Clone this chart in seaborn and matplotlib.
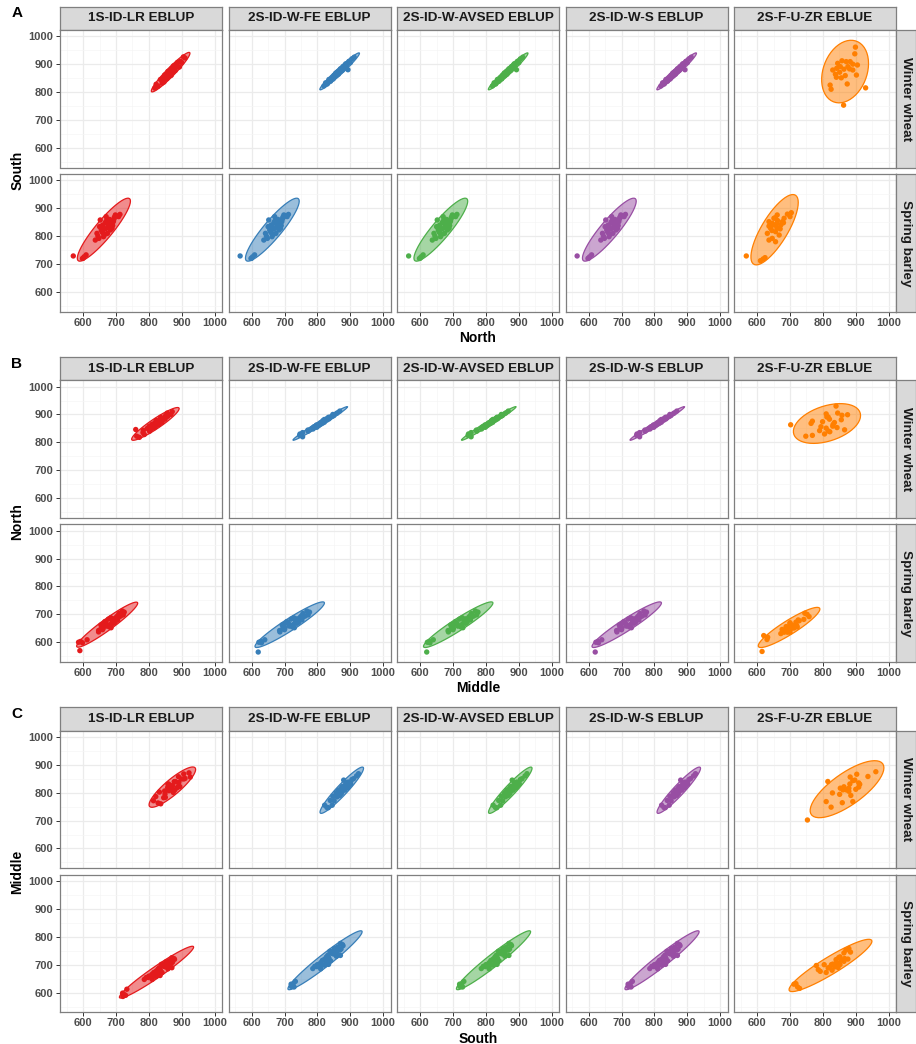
import numpy as np
import pandas as pd
import matplotlib
matplotlib.use("Agg")
import matplotlib.pyplot as plt
import seaborn as sns
from matplotlib.patches import Polygon
from matplotlib.colors import to_rgba

sns.set_theme(style="white")
plt.rcParams["font.family"] = ["Liberation Sans", "DejaVu Sans"]

# ---------------- data ----------------
METHODS = ["1S-ID-LR EBLUP", "2S-ID-W-FE EBLUP", "2S-ID-W-AVSED EBLUP",
           "2S-ID-W-S EBLUP", "2S-F-U-ZR EBLUE"]
METHOD_GROUP = ["LR", "IDW", "IDW", "IDW", "EBLUE"]
CROPS = ["Winter wheat", "Spring barley"]
COLORS = ["#E41A1C", "#377EB8", "#4DAF4A", "#984EA3", "#FF7F00"]
PANELS = [("A", "North", "South"), ("B", "Middle", "North"), ("C", "South", "Middle")]
TICKS = [600, 700, 800, 900, 1000]
MINOR_TICKS = [550, 650, 750, 850, 950]
LIMITS = (529.6, 1022.4)

# Winter wheat, 1S-ID-LR EBLUP
ww_lr_north = [818, 822, 828, 835, 840, 843, 846, 848, 850, 852, 855, 857, 858, 860, 862, 864, 865, 867,
               868, 870, 872, 874, 875, 877, 879, 880, 883, 885, 887, 890, 893, 896, 900, 905, 910]
ww_lr_south = [814, 828, 821, 845, 832, 850, 836, 861, 849, 862, 848, 864, 874, 857, 872, 858, 879, 869,
               860, 886, 880, 872, 894, 879, 890, 877, 899, 891, 906, 890, 890, 910, 906, 926, 922]
ww_lr_middle = [771, 763, 786, 782, 802, 783, 760, 807, 795, 816, 806, 820, 801, 818, 810, 830, 810, 824,
                831, 818, 840, 825, 822, 839, 823, 839, 849, 836, 849, 836, 857, 851, 867, 856, 871]

# Winter wheat, 2S-ID-W (FE / AVSED / S) EBLUP
ww_idw_north = [820, 825, 830, 835, 840, 844, 848, 851, 854, 856, 858, 860, 862, 864, 866, 868, 870, 872,
                874, 876, 878, 880, 882, 884, 886, 888, 890, 893, 896, 900, 905, 912]
ww_idw_south = [822, 833, 829, 845, 839, 851, 847, 860, 857, 868, 859, 868, 873, 864, 876, 872, 883, 875,
                882, 878, 891, 886, 894, 887, 901, 894, 901, 880, 910, 905, 919, 925]
ww_idw_middle = [755, 746, 747, 755, 772, 771, 787, 785, 798, 790, 800, 804, 797, 809, 806, 815, 809, 821,
                 815, 822, 817, 829, 821, 835, 830, 838, 834, 845, 850, 847, 860, 868]

# Winter wheat, 2S-F-U-ZR EBLUE
ww_eblue_north = [899, 897, 858, 871, 883, 845, 891, 905, 876, 830, 842, 864, 891, 851, 868, 841, 902,
                  856, 822, 874, 825, 930, 863, 838, 881, 853]
ww_eblue_south = [961, 937, 912, 909, 909, 903, 900, 897, 891, 879, 885, 882, 879, 871, 859, 853, 861,
                  851, 825, 829, 810, 815, 753, 864, 883, 891]
ww_eblue_middle = [875, 858, 830, 835, 820, 866, 812, 845, 768, 805, 790, 831, 816, 810, 764, 816, 810,
                   794, 748, 799, 768, 840, 702, 821, 856, 843]

# Spring barley, 1S-ID-LR EBLUP
sb_lr_north = [570, 600, 603, 609, 598, 637, 642, 645, 650, 652, 655, 658, 660, 663, 665, 668, 670, 672,
               674, 676, 680, 683, 686, 688, 692, 695, 698, 703, 708, 712, 648, 662,
               655, 668, 678, 684, 690, 660, 672, 694]
sb_lr_south = [729, 721, 726, 733, 720, 786, 810, 800, 834, 858, 822, 815, 840, 828, 805, 850, 870, 846,
               810, 832, 860, 822, 848, 828, 852, 868, 876, 872, 870, 878, 792, 798,
               835, 826, 842, 856, 838, 812, 858, 862]
sb_lr_middle = [590, 586, 592, 612, 598, 647, 647, 659, 661, 685, 658, 672, 672, 682, 659, 692, 689, 694,
                666, 689, 705, 677, 702, 684, 710, 705, 722, 709, 725, 719, 654, 654,
                680, 670, 696, 693, 701, 657, 697, 714]

# Spring barley, 2S-ID-W (FE / AVSED / S) EBLUP
sb_idw_north = [565, 600, 603, 609, 598, 637, 642, 645, 650, 652, 655, 658, 660, 663, 665, 668, 670, 672,
                674, 676, 680, 683, 686, 688, 692, 695, 698, 703, 708, 712, 648, 662,
                655, 668, 678, 684, 690, 660, 672, 694]
sb_idw_south = [729, 721, 726, 733, 720, 786, 810, 800, 834, 858, 822, 815, 840, 828, 805, 850, 870, 846,
                810, 832, 860, 822, 848, 828, 852, 868, 876, 872, 870, 878, 792, 798,
                835, 826, 842, 856, 838, 812, 858, 862]
sb_idw_middle = [620, 622, 628, 640, 630, 686, 685, 700, 701, 730, 698, 715, 714, 726, 699, 738, 733, 740,
                 707, 734, 753, 720, 749, 728, 758, 752, 772, 756, 776, 768, 694, 693,
                 724, 712, 742, 738, 748, 697, 743, 763]

# Spring barley, 2S-F-U-ZR EBLUE
sb_eblue_north = [567, 610, 624, 618, 661, 692, 704, 636, 646, 651, 661, 677, 672, 641, 656, 631, 667,
                  646, 636, 656, 682, 636, 700, 660, 650, 662, 670, 645, 680, 655]
sb_eblue_south = [729, 712, 723, 718, 876, 879, 884, 852, 846, 864, 846, 852, 840, 828, 816, 810, 804,
                  792, 786, 780, 864, 836, 870, 830, 840, 856, 826, 820, 848, 866]
sb_eblue_middle = [615, 630, 620, 632, 720, 758, 745, 700, 690, 712, 705, 728, 718, 680, 688, 672, 700,
                   676, 682, 697, 742, 692, 752, 702, 705, 716, 700, 690, 725, 722]

GROUP_DATA = {
    ("Winter wheat", "LR"): (ww_lr_north, ww_lr_south, ww_lr_middle),
    ("Winter wheat", "IDW"): (ww_idw_north, ww_idw_south, ww_idw_middle),
    ("Winter wheat", "EBLUE"): (ww_eblue_north, ww_eblue_south, ww_eblue_middle),
    ("Spring barley", "LR"): (sb_lr_north, sb_lr_south, sb_lr_middle),
    ("Spring barley", "IDW"): (sb_idw_north, sb_idw_south, sb_idw_middle),
    ("Spring barley", "EBLUE"): (sb_eblue_north, sb_eblue_south, sb_eblue_middle),
}

frames = []
for m, g in zip(METHODS, METHOD_GROUP):
    for crop in CROPS:
        n, s, mi = GROUP_DATA[(crop, g)]
        frames.append(pd.DataFrame({"method": m, "crop": crop,
                                    "North": n, "South": s, "Middle": mi}))
df = pd.concat(frames, ignore_index=True)


# ------------- 95% data ellipse (as ggplot2::stat_ellipse, type="norm") -------------
def norm_ellipse(x, y, level=0.95, segments=51):
    X = np.column_stack([np.asarray(x, float), np.asarray(y, float)])
    n = X.shape[0]
    center = X.mean(axis=0)
    cov = np.cov(X.T)
    dfd = n - 1
    qf = (dfd / 2.0) * ((1 - level) ** (-2.0 / dfd) - 1)  # F(2, dfd) quantile
    radius = np.sqrt(2 * qf)
    ang = np.arange(segments + 1) * 2 * np.pi / segments
    circ = np.column_stack([np.cos(ang), np.sin(ang)])
    L = np.linalg.cholesky(cov)
    return center + radius * (circ @ L.T)


# ---------------- layout ----------------
W, H = 916, 1044
fig = plt.figure(figsize=(W / 100, H / 100), dpi=100)


def rect(x0, y0, w, h):
    return [x0 / W, 1 - (y0 + h) / H, w / W, h / H]


BORDER = "#7F7F7F"
STRIP_FILL = "#D9D9D9"
TICK_COL = "#4D4D4D"
COL_LEFT0, COL_W, COL_STEP = 60, 162, 168.5
PANEL_STEP = 350.3
STRIP_H = 23.3
ROW_H = 137.5
ROW_GAP = 6.6

for p, (letter, xvar, yvar) in enumerate(PANELS):
    oy = p * PANEL_STEP
    strip_top = 6.7 + oy
    row_tops = [strip_top + STRIP_H, strip_top + STRIP_H + ROW_H + ROW_GAP]
    for c, method in enumerate(METHODS):
        x0 = COL_LEFT0 + c * COL_STEP
        # top strip
        sax = fig.add_axes(rect(x0, strip_top, COL_W, STRIP_H))
        sax.set_facecolor(STRIP_FILL)
        sax.set_xticks([]); sax.set_yticks([])
        for sp in sax.spines.values():
            sp.set_color(BORDER); sp.set_linewidth(0.9)
        sax.text(0.5, 0.5, method, ha="center", va="center", fontsize=9.7,
                 fontweight="bold", color="#1A1A1A", transform=sax.transAxes)
        for r, crop in enumerate(CROPS):
            ax = fig.add_axes(rect(x0, row_tops[r], COL_W, ROW_H))
            sub = df[(df["method"] == method) & (df["crop"] == crop)]
            col = COLORS[c]
            ell = norm_ellipse(sub[xvar], sub[yvar])
            ax.add_patch(Polygon(ell, closed=True, facecolor=to_rgba(col, 0.5),
                                 edgecolor=col, linewidth=0.9, zorder=2))
            sns.scatterplot(data=sub, x=xvar, y=yvar, ax=ax, color=col, s=15,
                            linewidth=0, edgecolor="none", legend=False, zorder=3)
            ax.set_xlim(*LIMITS); ax.set_ylim(*LIMITS)
            ax.set_xlabel(""); ax.set_ylabel("")
            ax.set_xticks(MINOR_TICKS, minor=True)
            ax.set_yticks(MINOR_TICKS, minor=True)
            ax.set_xticks(TICKS, labels=[str(t) for t in TICKS], fontweight="bold")
            ax.set_yticks(TICKS, labels=[str(t) for t in TICKS], fontweight="bold")
            ax.grid(which="major", color="#EBEBEB", linewidth=0.9)
            ax.grid(which="minor", color="#F5F5F5", linewidth=0.5)
            ax.set_axisbelow(True)
            ax.set_facecolor("white")
            for sp in ax.spines.values():
                sp.set_color(BORDER); sp.set_linewidth(0.9); sp.set_zorder(5)
            ax.tick_params(which="minor", length=0)
            bottom = (r == 1)
            left = (c == 0)
            ax.tick_params(axis="x", which="major", length=2.75 if bottom else 0,
                           width=0.7, color="#333333", labelsize=8, labelcolor=TICK_COL,
                           pad=1.6, labelbottom=bottom, bottom=bottom)
            ax.tick_params(axis="y", which="major", length=2.75 if left else 0,
                           width=0.7, color="#333333", labelsize=8, labelcolor=TICK_COL,
                           pad=2.0, labelleft=left, left=left)
            # right strip
            if c == len(METHODS) - 1:
                rax = fig.add_axes(rect(x0 + COL_W, row_tops[r], W - (x0 + COL_W), ROW_H))
                rax.set_facecolor(STRIP_FILL)
                rax.set_xticks([]); rax.set_yticks([])
                for sp in rax.spines.values():
                    sp.set_color(BORDER); sp.set_linewidth(0.9)
                rax.text(0.5, 0.5, crop, ha="center", va="center", rotation=-90,
                         fontsize=9.7, fontweight="bold", color="#1A1A1A",
                         transform=rax.transAxes)
    # panel letter
    fig.text(16.7 / W, 1 - (13.3 + oy) / H, letter, ha="center", va="center",
             fontsize=11, fontweight="bold", color="black")
    # y title
    ymid = (row_tops[0] + row_tops[1] + ROW_H) / 2
    fig.text(17.3 / W, 1 - ymid / H, yvar, ha="center", va="center", rotation=90,
             fontsize=10, fontweight="bold", color="black")
    # x title
    xmid = (COL_LEFT0 + COL_LEFT0 + 4 * COL_STEP + COL_W) / 2
    fig.text(xmid / W, 1 - (338 + oy) / H, xvar, ha="center", va="center",
             fontsize=10, fontweight="bold", color="black")

fig.savefig("out.png", dpi=100, facecolor="white")
